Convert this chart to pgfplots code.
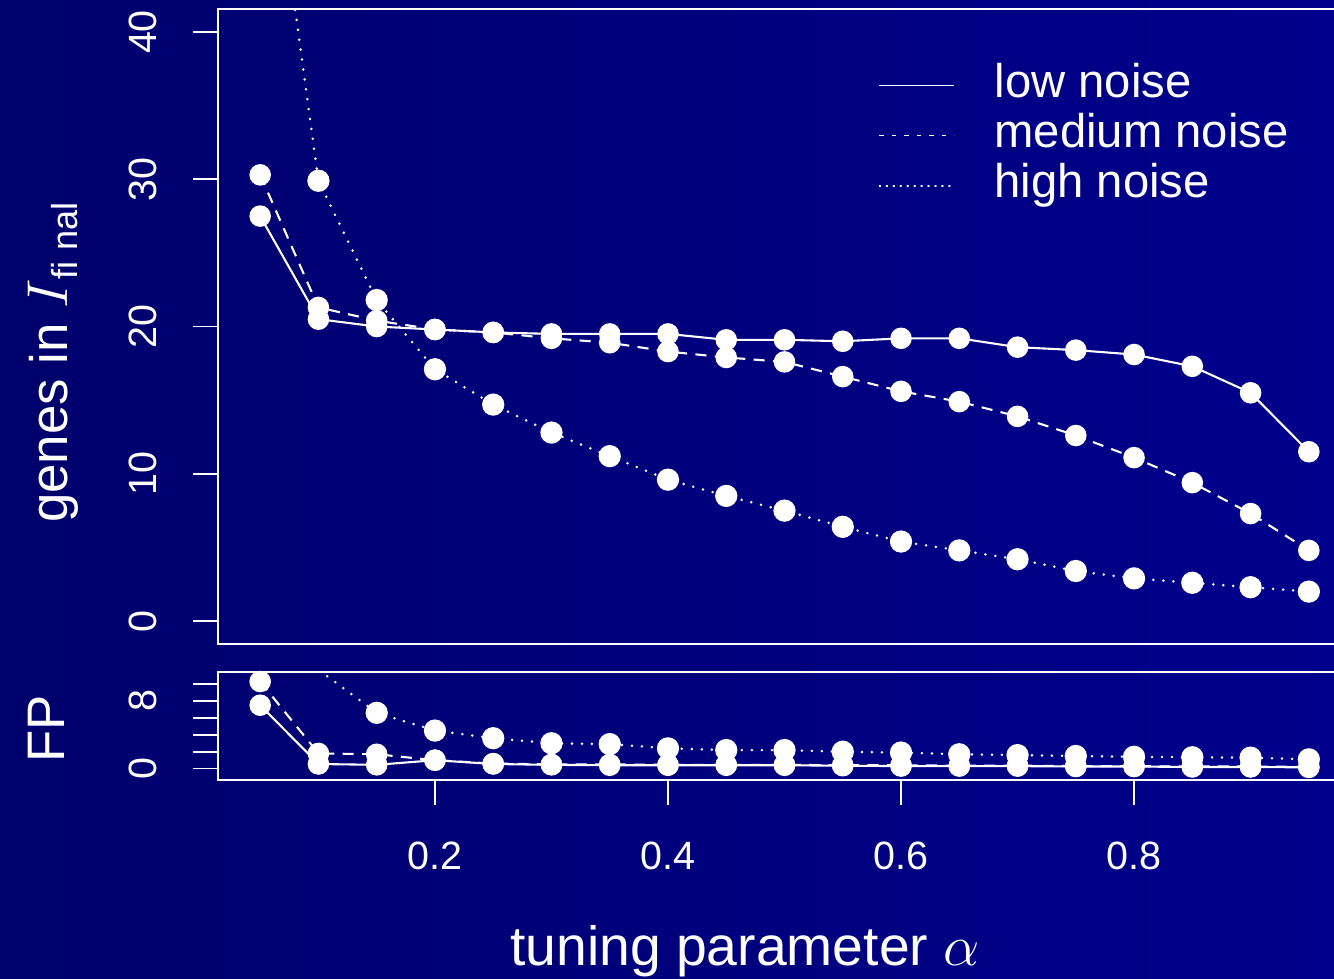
\documentclass[border=0pt]{standalone}
\usepackage{pgfplots}
\pgfplotsset{compat=1.18}
\usepackage{pgfplotstable}
\usepackage{fontspec}
\setmainfont{Liberation Sans}

\definecolor{bgL}{RGB}{0,0,108}
\definecolor{bgR}{RGB}{0,0,140}

\pgfplotstableread{
x low med high
0.05 27.5 30.3 59.0
0.10 20.5 21.3 29.9
0.15 20.0 20.4 21.8
0.20 19.8 19.8 17.1
0.25 19.6 19.6 14.7
0.30 19.5 19.2 12.8
0.35 19.5 18.9 11.2
0.40 19.5 18.3 9.6
0.45 19.1 17.9 8.5
0.50 19.1 17.6 7.5
0.55 19.0 16.6 6.4
0.60 19.2 15.6 5.4
0.65 19.2 14.9 4.8
0.70 18.6 13.9 4.2
0.75 18.4 12.6 3.4
0.80 18.1 11.1 2.9
0.85 17.3 9.4 2.6
0.90 15.5 7.3 2.3
0.95 11.5 4.8 2.0
}\topdata

\pgfplotstableread{
x low med high
0.05 7.5 10.3 50.0
0.10 0.55 1.8 11.7
0.15 0.45 1.7 6.6
0.20 1.0 1.0 4.5
0.25 0.55 0.6 3.6
0.30 0.45 0.5 3.0
0.35 0.4 0.5 2.9
0.40 0.4 0.45 2.4
0.45 0.4 0.45 2.2
0.50 0.4 0.45 2.2
0.55 0.35 0.4 2.0
0.60 0.3 0.4 1.9
0.65 0.3 0.35 1.7
0.70 0.3 0.35 1.6
0.75 0.25 0.3 1.5
0.80 0.25 0.3 1.4
0.85 0.2 0.25 1.35
0.90 0.2 0.25 1.3
0.95 0.15 0.2 1.1
}\fpdata

\pgfplotsset{
  myax/.style={
    scale only axis, width=413.5pt, xmin=0.0137, xmax=1.0,
    axis line style={white, line width=0.6pt},
    tick style={white, line width=0.6pt},
    major tick length=9pt, tick align=outside,
    ticklabel style={text=white, font=\fontsize{14.2}{16}\selectfont},
    /pgf/number format/assume math mode=true,
    label style={text=white, font=\fontsize{19}{22}\selectfont},
    yticklabel style={xshift=-12.6pt, rotate=90, anchor=south, inner sep=0pt},
    xticklabel style={yshift=-13pt, anchor=north, inner sep=0pt},
    ytick pos=left, xtick pos=bottom,
  },
  lowst/.style={white, line width=0.75pt, mark=*, mark size=3.5pt, mark options={solid, fill=white, draw=white}},
  medst/.style={white, line width=0.75pt, dash pattern=on 4pt off 3pt, mark=*, mark size=3.5pt, mark options={solid, fill=white, draw=white}},
  highst/.style={white, line width=1pt, line cap=round, dash pattern=on 0pt off 3.6pt, mark=*, mark size=3.5pt, mark options={solid, fill=white, draw=white}},
}

\begin{document}
\begin{tikzpicture}
\useasboundingbox (0,0) rectangle (480pt,352.26pt);
\clip (0,0) rectangle (480pt,352.26pt);
\shade[left color=bgL, right color=bgR] (0,0) rectangle (480pt,352.26pt);

\begin{axis}[myax,
  at={(78.4pt,120.5pt)}, anchor=south west, height=228.5pt,
  ymin=-1.562, ymax=41.56, ytick={0,10,20,30,40}, xtick=\empty,
  ylabel={genes in {\fontsize{22}{22}\selectfont$I$}\raisebox{-3.6pt}{\fontsize{13}{13}\selectfont fi nal}},
  ylabel style={at={(axis description cs:-0.1434,0.443)}, anchor=center},
  legend style={at={(rel axis cs:0.575,0.914)}, anchor=north west, draw=none, fill=none,
    inner sep=0pt, outer sep=0pt, column sep=14.2pt, row sep=2pt,
    font=\fontsize{17}{18}\selectfont, text=white,
    nodes={inner sep=0pt, text height=12pt, text depth=4pt}},
  legend cell align=left,
]
\addplot[lowst, legend image code/.code={\draw[white,line width=0.4pt] (0pt,0pt) -- (27pt,0pt);}] table[x=x,y=low] {\topdata};
\addlegendentry{low noise}
\addplot[medst, legend image code/.code={\draw[white,line width=0.4pt,dash pattern=on 1.6pt off 2.9pt] (0pt,0pt) -- (27pt,0pt);}] table[x=x,y=med] {\topdata};
\addlegendentry{medium noise}
\addplot[highst, legend image code/.code={\draw[white,line width=0.5pt,dash pattern=on 0.4pt off 2.1pt] (0pt,0pt) -- (27pt,0pt);}] table[x=x,y=high] {\topdata};
\addlegendentry{high noise}
\end{axis}

\begin{axis}[myax,
  at={(78.4pt,71.6pt)}, anchor=south west, height=38.9pt,
  ymin=-1.34, ymax=11.44, ytick={0,2,4,6,8,10}, yticklabels={0,,,,8,},
  xtick={0.2,0.4,0.6,0.8},
  xlabel={\fontsize{19.9}{22}\selectfont tuning parameter $\alpha$},
  xlabel style={at={(axis description cs:0.4588,-1.58)}, anchor=center},
  ylabel={FP},
  ylabel style={at={(axis description cs:-0.1496,0.473)}, anchor=center},
]
\addplot[lowst] table[x=x,y=low] {\fpdata};
\addplot[medst] table[x=x,y=med] {\fpdata};
\addplot[highst] table[x=x,y=high] {\fpdata};
\end{axis}
\end{tikzpicture}
\end{document}
